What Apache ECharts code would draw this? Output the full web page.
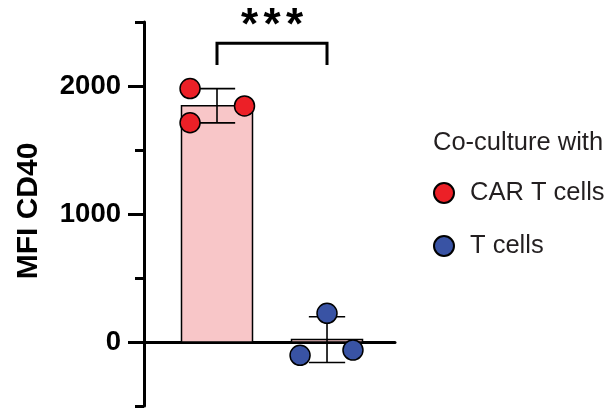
<!DOCTYPE html>
<html>
<head>
<meta charset="utf-8">
<script src="https://cdn.jsdelivr.net/npm/echarts@6/dist/echarts.min.js"></script>
<style>html,body{margin:0;padding:0;background:#fff;}#c{width:612px;height:410px;}</style>
</head>
<body>
<div id="c"></div>
<script>
// ---- data ----
const categories = ['CAR T cells', 'T cells'];
const carTValues = [1980, 1844, 1713];
const tCellValues = [224, -104, -63];
const carTJitter = [-0.245, 0.25, -0.245];
const tCellJitter = [0, -0.245, 0.236];
const yTickLabels = [0, 1000, 2000];
const yMinorTicks = [-500, 500, 1500, 2500];
const sigLabel = '***';
const legendTitle = 'Co-culture with';
const yTitle = 'MFI CD40';

// ---- helpers ----
function mean(a) { return a.reduce((s, v) => s + v, 0) / a.length; }
function sd(a) { const m = mean(a); return Math.sqrt(a.reduce((s, v) => s + (v - m) * (v - m), 0) / (a.length - 1)); }
const groups = [carTValues, tCellValues];
const summary = groups.map((g, i) => [i + 1, mean(g), sd(g)]);
const colors = ['#ec2027', '#3953a4'];
const barFill = ['#f8c6c8', '#f8c6c8'];
const FONT = '"Liberation Sans", Arial, sans-serif';

const chart = echarts.init(document.getElementById('c'), null, { renderer: 'canvas' });
const option = {
  animation: false,
  backgroundColor: '#fff',
  grid: { left: 144, right: 217, top: 22, bottom: 4, outerBoundsMode: 'none', containLabel: false },
  title: {
    text: legendTitle, left: 433, top: 130, padding: 0,
    textStyle: { fontFamily: FONT, fontSize: 25.5, fontWeight: 'normal', color: '#231f20', lineHeight: 26 }
  },
  legend: {
    data: categories, orient: 'vertical', left: 433, top: 180, padding: 0,
    itemWidth: 20, itemHeight: 20, itemGap: 27, icon: 'circle',
    textStyle: { fontFamily: FONT, fontSize: 25.5, color: '#231f20', lineHeight: 26, padding: [0, 0, 0, 11] }
  },
  xAxis: {
    type: 'value', min: 0.3364, max: 2.618,
    axisLine: { show: true, onZero: true, onZeroAxisIndex: 0, lineStyle: { color: '#000', width: 3 } },
    axisTick: { show: false }, axisLabel: { show: false }, splitLine: { show: false }
  },
  yAxis: [{
    type: 'value', min: -500, max: 2500, position: 'left',
    name: yTitle, nameLocation: 'middle', nameGap: 100,
    nameTextStyle: { fontFamily: FONT, fontSize: 30, fontWeight: 'bold', color: '#000', padding: [0, 0, 0, 6] },
    axisLine: { show: true, lineStyle: { color: '#000', width: 3 } },
    axisTick: { show: true, length: 16, lineStyle: { color: '#000', width: 3 }, customValues: yTickLabels },
    axisLabel: { show: true, margin: 23, fontFamily: FONT, fontSize: 27.5, fontWeight: 'bold', color: '#000',
      customValues: yTickLabels, formatter: function (v) { return String(v); } },
    splitLine: { show: false }
  }, {
    type: 'value', min: -500, max: 2500, position: 'left', offset: 0,
    axisLine: { show: false },
    axisTick: { show: true, length: 9, lineStyle: { color: '#000', width: 3 }, customValues: yMinorTicks },
    axisLabel: { show: false },
    splitLine: { show: false }
  }],
  series: [
    {
      type: 'custom', name: 'bars', silent: true, z: 1,
      data: summary,
      renderItem: function (params, api) {
        const x = api.value(0), m = api.value(1), s = api.value(2);
        const half = 0.3227, cap = 0.165;
        const p0 = api.coord([x - half, m]);
        const p1 = api.coord([x + half, 0]);
        const t = api.coord([x, m + s]);
        const b = api.coord([x, m - s]);
        const c1 = api.coord([x - cap, m + s]);
        const c2 = api.coord([x + cap, m + s]);
        const c3 = api.coord([x - cap, m - s]);
        const c4 = api.coord([x + cap, m - s]);
        const idx = params.dataIndex;
        const ls = { stroke: '#000', lineWidth: 1.6, fill: null };
        return {
          type: 'group',
          children: [
            { type: 'rect', shape: { x: p0[0], y: Math.min(p0[1], p1[1]), width: p1[0] - p0[0], height: Math.abs(p1[1] - p0[1]) },
              style: { fill: barFill[idx], stroke: '#000', lineWidth: 1.5 } },
            { type: 'line', shape: { x1: t[0], y1: t[1], x2: b[0], y2: b[1] }, style: ls },
            { type: 'line', shape: { x1: c1[0], y1: c1[1], x2: c2[0], y2: c2[1] }, style: ls },
            { type: 'line', shape: { x1: c3[0], y1: c3[1], x2: c4[0], y2: c4[1] }, style: ls }
          ]
        };
      }
    },
    {
      type: 'scatter', name: categories[0], z: 5, symbol: 'circle', symbolSize: 20,
      itemStyle: { color: colors[0], borderColor: '#000', borderWidth: 1.5, opacity: 1 },
      data: carTValues.map((v, i) => [1 + carTJitter[i], v])
    },
    {
      type: 'scatter', name: categories[1], z: 5, symbol: 'circle', symbolSize: 20,
      itemStyle: { color: colors[1], borderColor: '#000', borderWidth: 1.5, opacity: 1 },
      data: tCellValues.map((v, i) => [2 + tCellJitter[i], v])
    },
    {
      type: 'custom', name: 'sig', silent: true, z: 6,
      data: [[1, 2, 2334, 2164]],
      renderItem: function (params, api) {
        const a = api.coord([api.value(0), api.value(3)]);
        const b = api.coord([api.value(0), api.value(2)]);
        const c = api.coord([api.value(1), api.value(2)]);
        const d = api.coord([api.value(1), api.value(3)]);
        const mx = (b[0] + c[0]) / 2;
        const ty = b[1] + 6;
        const stars = sigLabel.split('');
        const kids = [{ type: 'polyline', shape: { points: [a, b, c, d] }, style: { stroke: '#000', lineWidth: 3, fill: null } }];
        stars.forEach((ch, i) => {
          kids.push({ type: 'text', x: mx + (i - (stars.length - 1) / 2) * 22.5, y: ty,
            style: { text: ch, font: 'bold 44px "Liberation Sans", Arial, sans-serif', fill: '#000', align: 'center', verticalAlign: 'bottom' } });
        });
        return { type: 'group', children: kids };
      }
    }
  ]
};
chart.setOption(option);
</script>
</body>
</html>
